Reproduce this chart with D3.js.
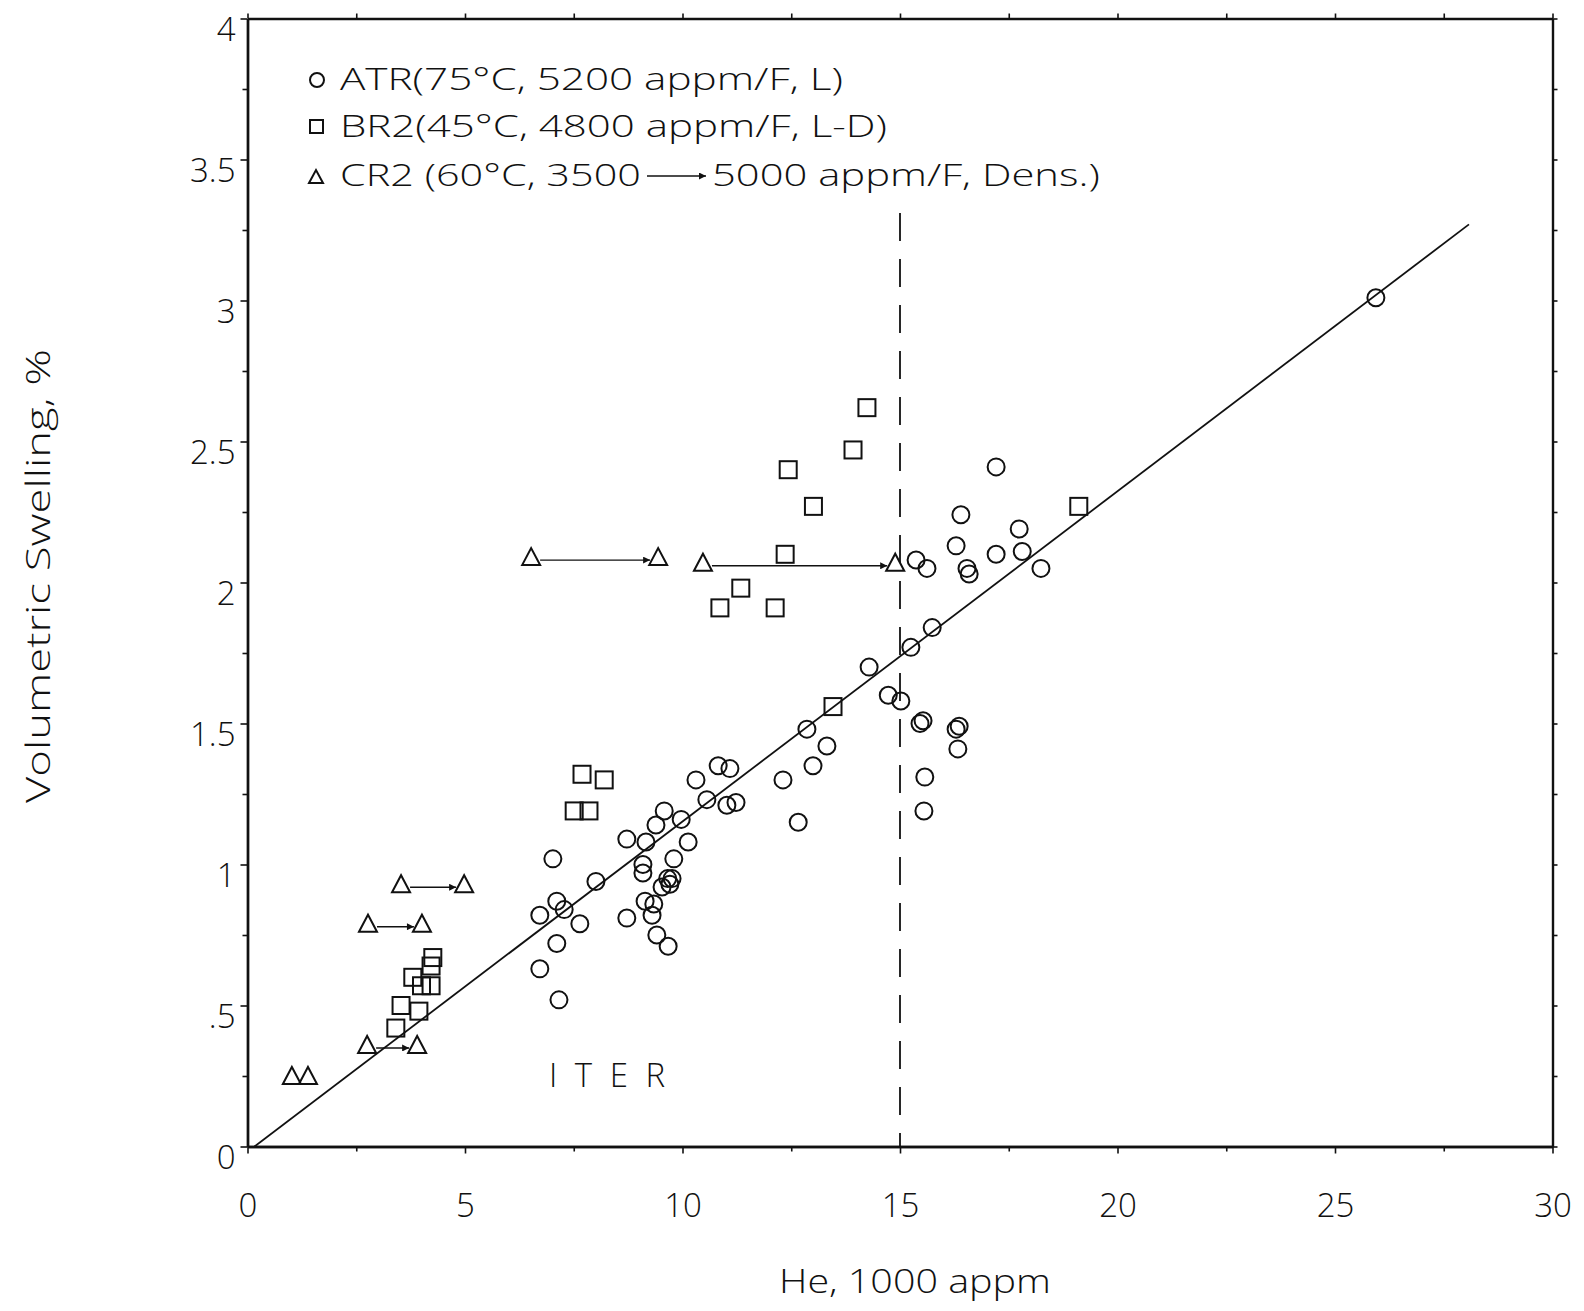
<!DOCTYPE html>
<html>
<head>
<meta charset="utf-8">
<script src="https://cdn.jsdelivr.net/npm/d3@7"></script>
<style>
  html, body { margin: 0; padding: 0; background: #fff; }
  svg { display: block; }
  text { font-family: "Open Sans", "DejaVu Sans", sans-serif; font-weight: 300; fill: #111; }
</style>
</head>
<body>
<script>
// ---------- data ----------
const atrX = [25.94, 17.21, 16.40, 17.74, 16.29, 17.21, 17.81, 18.24, 15.37, 15.62, 16.54, 16.59,
  15.74, 15.25, 14.29, 14.73, 15.02, 15.46, 15.53, 16.29, 16.36, 16.33, 15.57, 15.55,
  12.86, 13.32, 13.00, 12.31, 12.66, 10.82, 11.09, 10.31, 10.56, 11.02, 11.23,
  9.58, 9.39, 9.97, 8.72, 9.16, 7.02, 8.01, 9.09, 9.09, 10.13, 9.80,
  9.71, 9.76, 9.66, 9.53, 9.14, 9.34, 9.30, 9.41, 9.67, 8.72,
  7.11, 7.28, 6.72, 7.64, 7.11, 6.72, 7.16];
const atrY = [3.01, 2.41, 2.24, 2.19, 2.13, 2.10, 2.11, 2.05, 2.08, 2.05, 2.05, 2.03,
  1.84, 1.77, 1.70, 1.60, 1.58, 1.50, 1.51, 1.48, 1.49, 1.41, 1.31, 1.19,
  1.48, 1.42, 1.35, 1.30, 1.15, 1.35, 1.34, 1.30, 1.23, 1.21, 1.22,
  1.19, 1.14, 1.16, 1.09, 1.08, 1.02, 0.94, 1.00, 0.97, 1.08, 1.02,
  0.93, 0.95, 0.95, 0.92, 0.87, 0.86, 0.82, 0.75, 0.71, 0.81,
  0.87, 0.84, 0.82, 0.79, 0.72, 0.63, 0.52];

const br2X = [14.24, 13.92, 12.43, 13.01, 12.36, 11.34, 10.86, 12.13, 19.11, 13.46,
  7.69, 8.20, 7.51, 7.85,
  4.26, 4.22, 3.80, 4.22, 4.00, 3.53, 3.94, 3.41];
const br2Y = [2.62, 2.47, 2.40, 2.27, 2.10, 1.98, 1.91, 1.91, 2.27, 1.56,
  1.32, 1.30, 1.19, 1.19,
  0.67, 0.64, 0.60, 0.57, 0.57, 0.50, 0.48, 0.42];

const cr2X = [6.52, 9.44, 10.47, 14.89, 3.53, 4.98, 2.77, 4.01, 2.75, 3.90, 1.02, 1.39];
const cr2Y = [2.09, 2.09, 2.07, 2.07, 0.93, 0.93, 0.79, 0.79, 0.36, 0.36, 0.25, 0.25];

// CR2 density-correction arrows (3500 -> 5000 appm/F)
const arrowFromX = [6.52, 10.47, 3.53, 2.77, 2.75];
const arrowToX   = [9.44, 14.89, 4.98, 4.01, 3.90];
const arrowY     = [2.09, 2.07, 0.93, 0.79, 0.36];

// fit line and ITER limit
const fitX = [0.16, 28.08];
const fitY = [0.0, 3.27];
const iterLimitX = [15, 15];
const iterLimitY = [3.31, 0];

const xMajor = [0, 5, 10, 15, 20, 25, 30];
const xMinor = [2.5, 7.5, 12.5, 17.5, 22.5, 27.5];
const yMajor = [0, 0.5, 1, 1.5, 2, 2.5, 3, 3.5, 4];
const yMinor = [0.25, 0.75, 1.25, 1.75, 2.25, 2.75, 3.25, 3.75];
const yLabels = ["0", ".5", "1", "1.5", "2", "2.5", "3", "3.5", "4"];
const xLabels = ["0", "5", "10", "15", "20", "25", "30"];

const legendLabels = ["ATR(75°C, 5200 appm/F, L)", "BR2(45°C, 4800 appm/F, L-D)"];
const legendCR2a = "CR2 (60°C, 3500";
const legendCR2b = "5000  appm/F, Dens.)";

// ---------- drawing ----------
const W = 1584, H = 1311;
const svg = d3.select("body").append("svg").attr("width", W).attr("height", H);

const x = d3.scaleLinear().domain([0, 30]).range([247.5, 1552.5]);
const y = d3.scaleLinear().domain([0, 4]).range([1146.5, 18.5]);

svg.append("defs").append("marker")
  .attr("id", "ah").attr("viewBox", "0 0 10 10")
  .attr("refX", 10).attr("refY", 5)
  .attr("markerWidth", 10).attr("markerHeight", 7).attr("markerUnits", "userSpaceOnUse")
  .attr("orient", "auto")
  .append("path").attr("d", "M0,0 L10,5 L0,10 Z").attr("fill", "#111");

const fs = 31, tfs = 33;

// stretch a text horizontally so it spans the target width
function fitText(parent, str, px, py, target, size, anchor, rot) {
  const t = parent.append("text").style("font-size", size + "px")
    .attr("text-anchor", anchor || "start").text(str);
  const w = t.node().getComputedTextLength();
  const s = target / w;
  t.attr("transform", `translate(${px},${py})` + (rot ? ` rotate(${rot})` : "") + ` scale(${s},1)`);
  return t;
}

// axes
function styleAxis(g) {
  g.select(".domain").attr("stroke", "#111").attr("stroke-width", 2.4);
  g.selectAll(".tick line").attr("stroke", "#111").attr("stroke-width", 1.6);
  g.selectAll("text").style("font-size", tfs + "px").attr("fill", "#111");
}
const bottomY = y(0), topY = y(4), leftX = x(0), rightX = x(30);

svg.append("g").attr("transform", `translate(0,${bottomY})`)
  .call(d3.axisBottom(x).tickValues(xMajor).tickSize(7).tickPadding(40)
    .tickFormat((d, i) => xLabels[i]).tickSizeOuter(0))
  .call(styleAxis);
svg.append("g").attr("transform", `translate(0,${bottomY})`)
  .call(d3.axisBottom(x).tickValues(xMinor).tickSize(5).tickFormat("").tickSizeOuter(0))
  .call(styleAxis);
svg.append("g").attr("transform", `translate(0,${topY})`)
  .call(d3.axisTop(x).tickValues(xMajor.concat(xMinor)).tickSize(5).tickFormat("").tickSizeOuter(0))
  .call(styleAxis);

const yl = svg.append("g").attr("transform", `translate(${leftX},0)`)
  .call(d3.axisLeft(y).tickValues(yMajor).tickSize(7).tickPadding(5)
    .tickFormat((d, i) => yLabels[i]).tickSizeOuter(0))
  .call(styleAxis);
yl.selectAll("text").attr("dy", "0.68em");
svg.append("g").attr("transform", `translate(${leftX},0)`)
  .call(d3.axisLeft(y).tickValues(yMinor).tickSize(5).tickFormat("").tickSizeOuter(0))
  .call(styleAxis);
svg.append("g").attr("transform", `translate(${rightX},0)`)
  .call(d3.axisRight(y).tickValues(yMajor.concat(yMinor)).tickSize(5).tickFormat("").tickSizeOuter(0))
  .call(styleAxis);

// axis titles
fitText(svg, "He, 1000 appm", 915, 1293, 272, 33, "middle");
fitText(svg, "Volumetric Swelling, %", 50, 576, 454, 33, "middle", -90);

// fit line
const line = d3.line().x(d => x(d[0])).y(d => y(d[1]));
svg.append("path").datum(fitX.map((v, i) => [v, fitY[i]]))
  .attr("d", line).attr("fill", "none").attr("stroke", "#111").attr("stroke-width", 1.8);

// ITER limit dashed line (drawn from top down)
svg.append("path").datum(iterLimitX.map((v, i) => [v, iterLimitY[i]]))
  .attr("d", line).attr("fill", "none").attr("stroke", "#111").attr("stroke-width", 1.8)
  .attr("stroke-dasharray", "28,18");

// ITER label
svg.append("text").attr("x", 549).attr("y", 1087).style("font-size", "33px")
  .attr("textLength", 116).attr("lengthAdjust", "spacing").text("ITER");

// arrows
svg.append("g").selectAll("line").data(arrowY).join("line")
  .attr("x1", (d, i) => x(arrowFromX[i]) + 9)
  .attr("x2", (d, i) => x(arrowToX[i]) - 8)
  .attr("y1", d => y(d) + 3).attr("y2", d => y(d) + 3)
  .attr("stroke", "#111").attr("stroke-width", 1.4)
  .attr("marker-end", "url(#ah)");

// markers
const mk = svg.append("g").attr("fill", "none").attr("stroke", "#111").attr("stroke-width", 2);
mk.selectAll("circle.atr").data(atrX).join("circle").attr("class", "atr")
  .attr("cx", d => x(d)).attr("cy", (d, i) => y(atrY[i])).attr("r", 8.5);
mk.selectAll("rect.br2").data(br2X).join("rect").attr("class", "br2")
  .attr("x", d => x(d) - 8.5).attr("y", (d, i) => y(br2Y[i]) - 8.5)
  .attr("width", 17).attr("height", 17);
mk.selectAll("path.cr2").data(cr2X).join("path").attr("class", "cr2")
  .attr("d", (d, i) => {
    const cx = x(d), cy = y(cr2Y[i]);
    return `M${cx - 9},${cy + 8} L${cx},${cy - 9} L${cx + 9},${cy + 8} Z`;
  });

// legend
const lg = svg.append("g");
const rowY = [90, 137, 186];
lg.append("circle").attr("cx", 317).attr("cy", rowY[0] - 10).attr("r", 7)
  .attr("fill", "none").attr("stroke", "#111").attr("stroke-width", 2);
lg.append("rect").attr("x", 310).attr("y", rowY[1] - 17).attr("width", 13).attr("height", 13)
  .attr("fill", "none").attr("stroke", "#111").attr("stroke-width", 2);
lg.append("path").attr("d", `M309,${rowY[2] - 3} L316,${rowY[2] - 16} L323,${rowY[2] - 3} Z`)
  .attr("fill", "none").attr("stroke", "#111").attr("stroke-width", 2);
fitText(lg, legendLabels[0], 340, rowY[0], 503, fs);
fitText(lg, legendLabels[1], 340, rowY[1], 547, fs);
fitText(lg, legendCR2a, 340, rowY[2], 301, fs);
lg.append("line").attr("x1", 647).attr("x2", 706).attr("y1", rowY[2] - 10).attr("y2", rowY[2] - 10)
  .attr("stroke", "#111").attr("stroke-width", 1.6).attr("marker-end", "url(#ah)");
fitText(lg, legendCR2b, 712, rowY[2], 388, fs);
</script>
</body>
</html>
